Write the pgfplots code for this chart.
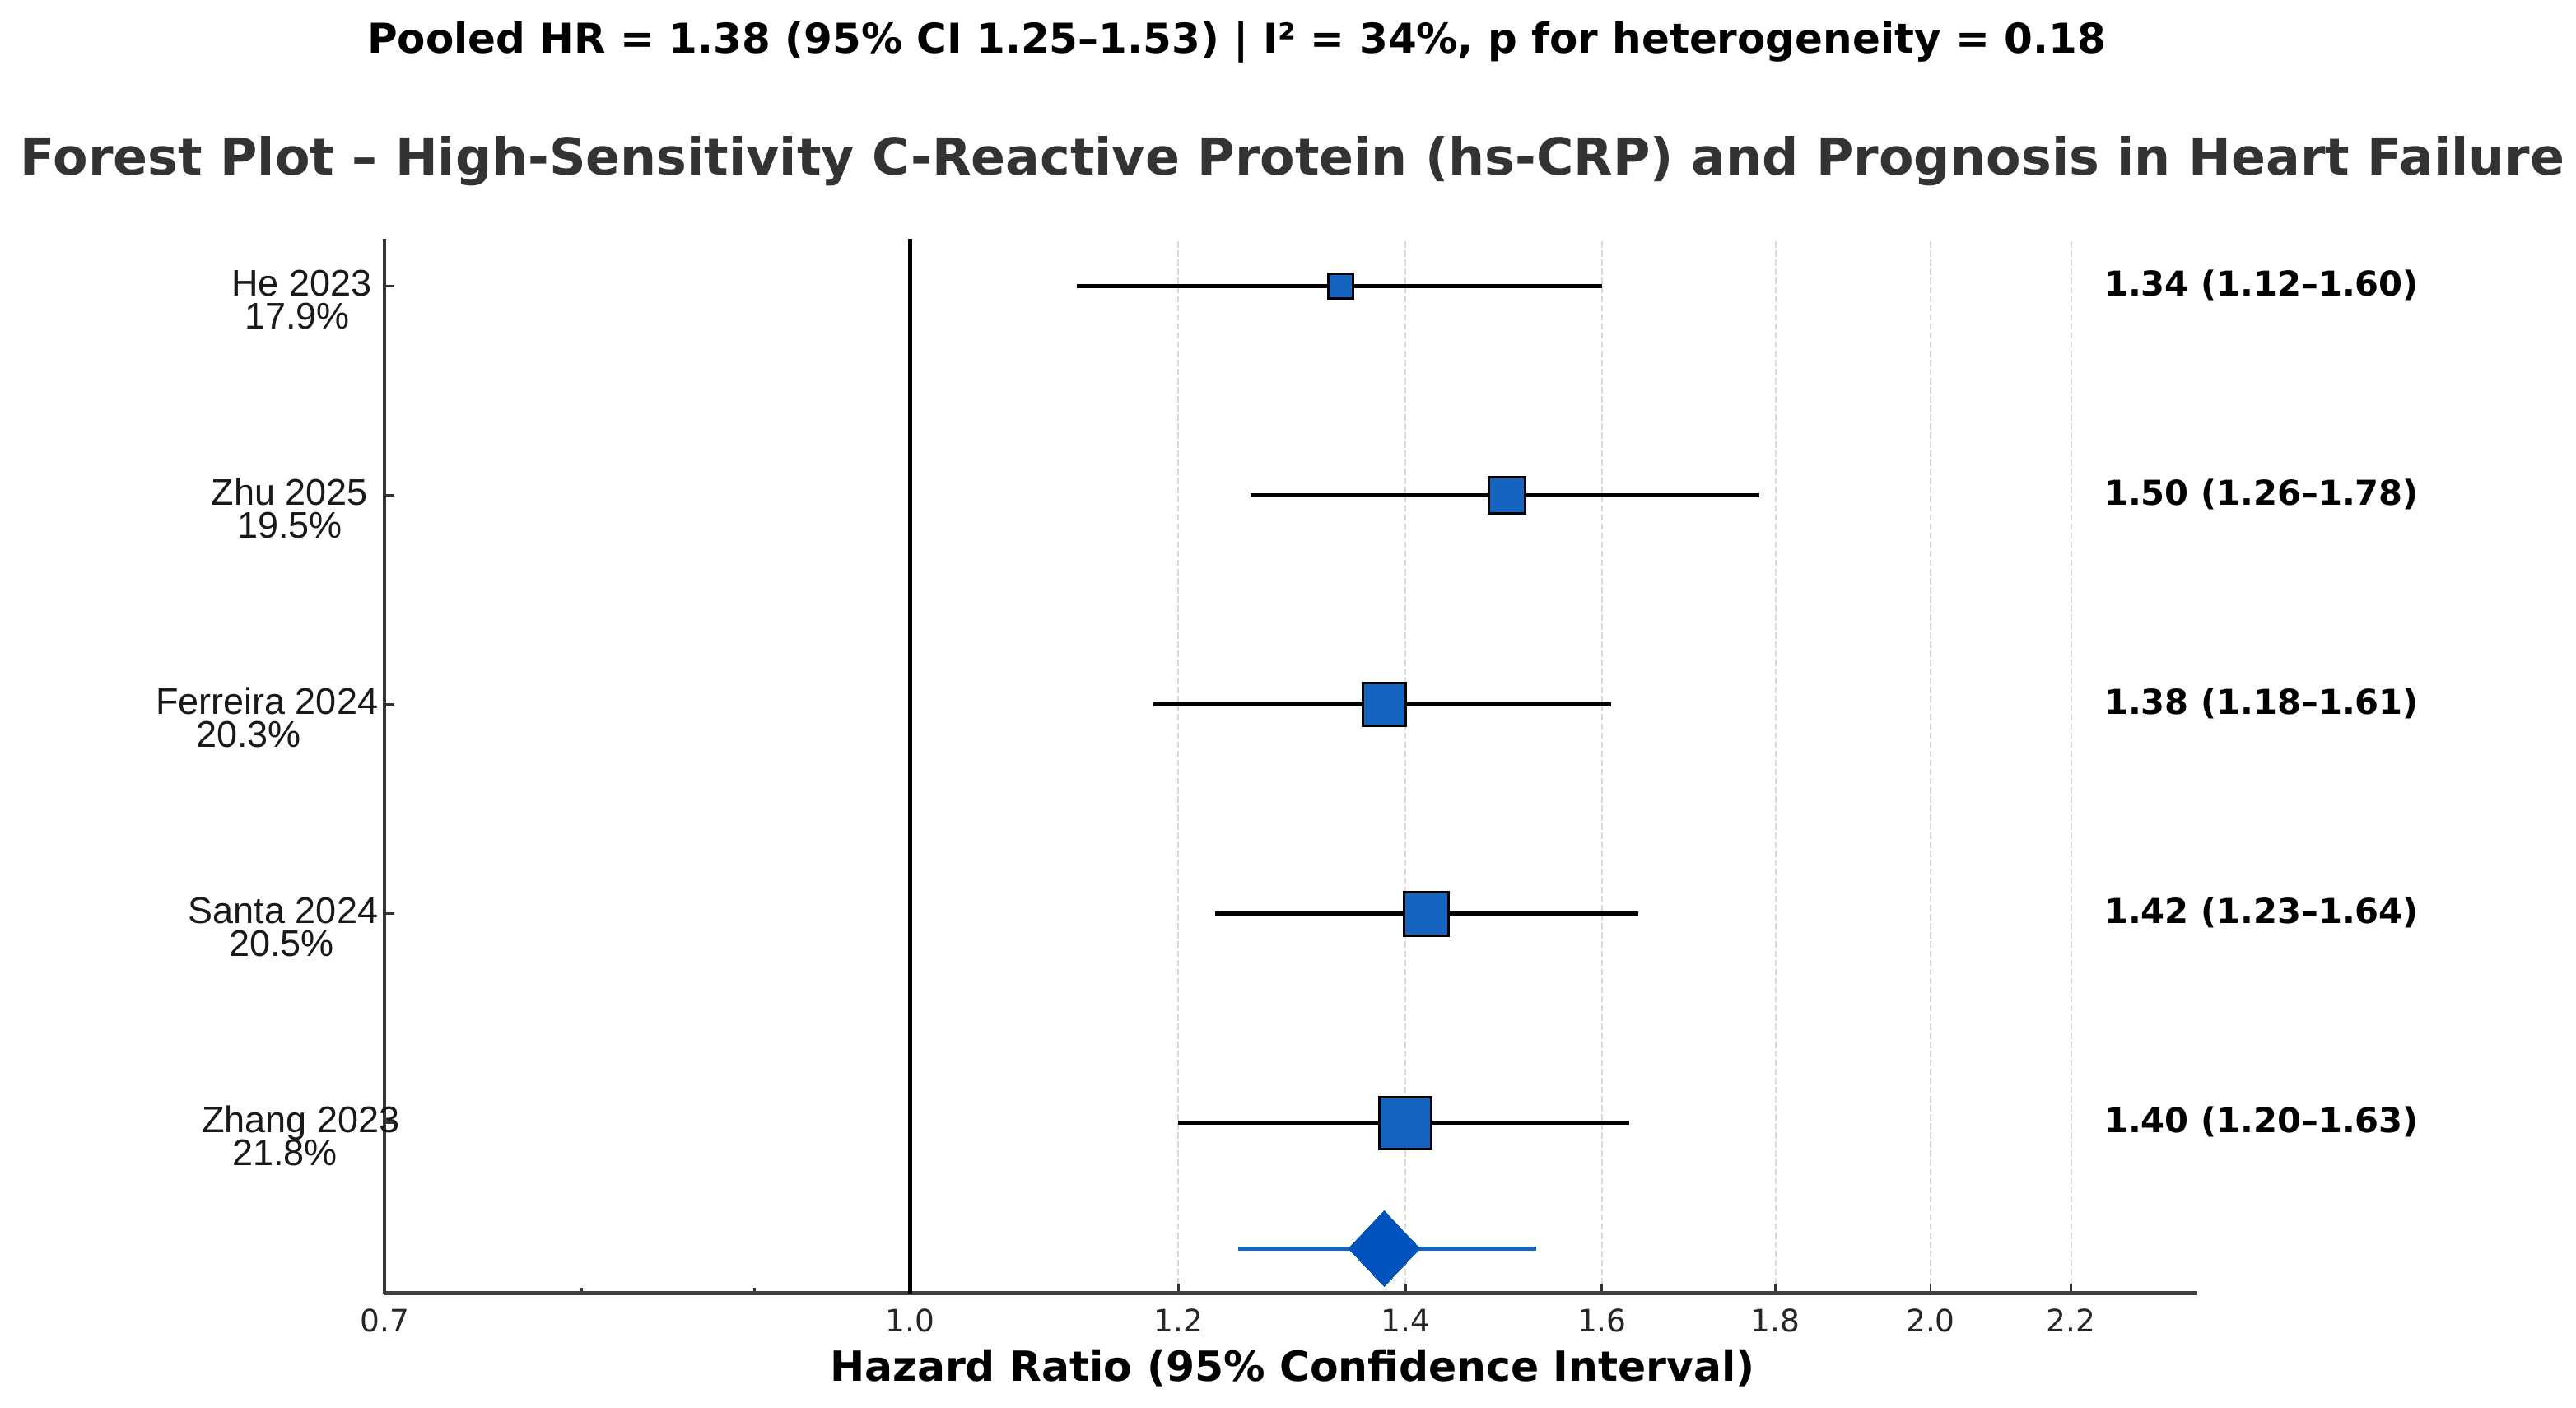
\documentclass[border=0pt]{standalone}
\usepackage{fontspec}
\setmainfont{DejaVu Sans}
\newfontfamily\labfont{Liberation Sans}
\usepackage{pgfplots}
\pgfplotsset{compat=1.18}

\definecolor{boxblue}{HTML}{1565C0}
\definecolor{diablue}{HTML}{0052BD}
\definecolor{titlegray}{HTML}{333333}
\definecolor{gridgray}{HTML}{D9D9D9}

% 1 px of the reference = 0.24 pt
\begin{document}
\begin{tikzpicture}
\useasboundingbox (0,0) rectangle (751pt,410.4pt);

\node[anchor=base, font=\bfseries\fontsize{12}{14}\selectfont] at (360.5pt,394.8pt)
  {Pooled HR = 1.38 (95\% CI 1.25–1.53) | I² = 34\%, p for heterogeneity = 0.18};
\node[anchor=base, text=titlegray, font=\bfseries\fontsize{14.85}{18}\selectfont] at (376.8pt,359.5pt)
  {Forest Plot – High-Sensitivity C-Reactive Protein (hs-CRP) and Prognosis in Heart Failure};

\begin{axis}[
  at={(112.1pt,33.4pt)}, anchor=south west,
  scale only axis, width=528.5pt, height=307.4pt,
  xmode=log, xmin=0.7, xmax=2.397,
  ymin=0.185, ymax=5.228,
  clip=false,
  axis x line*=bottom, axis y line*=left,
  x axis line style={-, line width=1.3pt, color=black!75},
  y axis line style={-, line width=0.8pt, color=black!80},
  xtick={0.7,1,1.2,1.4,1.6,1.8,2.0,2.2},
  xticklabels={0.7,1.0,1.2,1.4,1.6,1.8,2.0,2.2},
  minor xtick={0.8,0.9},
  ytick={1,2,3,4,5}, yticklabels={},
  tick align=inside,
  major tick length=2.8pt, minor tick length=1.6pt,
  tick style={color=black!80, line width=0.7pt},
  xmajorgrids,
  major grid style={gridgray, line width=0.5pt, dash pattern=on 1.85pt off 0.8pt},
  /pgf/number format/assume math mode=true,
  xticklabel style={anchor=base, yshift=-11.1pt, text=black!85,
    font=\fontsize{9}{11}\selectfont},
]

% boxes (weight-sized)
\addplot[only marks, mark=square*, mark size=3.6pt,
  mark options={fill=boxblue, draw=black, line width=0.7pt}] coordinates {(1.34,5)};
\addplot[only marks, mark=square*, mark size=5.3pt,
  mark options={fill=boxblue, draw=black, line width=0.7pt}] coordinates {(1.50,4)};
\addplot[only marks, mark=square*, mark size=6.25pt,
  mark options={fill=boxblue, draw=black, line width=0.7pt}] coordinates {(1.38,3)};
\addplot[only marks, mark=square*, mark size=6.4pt,
  mark options={fill=boxblue, draw=black, line width=0.7pt}] coordinates {(1.42,2)};
\addplot[only marks, mark=square*, mark size=7.55pt,
  mark options={fill=boxblue, draw=black, line width=0.7pt}] coordinates {(1.40,1)};

% confidence intervals
\addplot[black, line width=1.2pt] coordinates {(1.12,5) (1.60,5)};
\addplot[black, line width=1.2pt] coordinates {(1.26,4) (1.78,4)};
\addplot[black, line width=1.2pt] coordinates {(1.18,3) (1.61,3)};
\addplot[black, line width=1.2pt] coordinates {(1.23,2) (1.64,2)};
\addplot[black, line width=1.2pt] coordinates {(1.20,1) (1.63,1)};

% null line
\addplot[black, line width=1.3pt] coordinates {(1,0.185) (1,5.228)};

% pooled estimate
\addplot[boxblue, line width=1.2pt] coordinates {(1.25,0.4) (1.53,0.4)};
\addplot[diablue, only marks, mark=square*, mark size=7.38pt,
  mark options={fill=diablue, draw=diablue, line width=0pt, yscale=1.06, rotate=45}] coordinates {(1.38,0.4)};

% study labels
\tikzset{lab/.style={inner sep=0pt, text=black!90, font=\labfont\fontsize{10.8}{12}\selectfont}}
\node[lab, anchor=mid east] at (axis cs:0.7,5) [xshift=-3.6pt] {He 2023};
\node[lab, anchor=mid] at (axis cs:0.7,5) [xshift=-25.4pt, yshift=-9.6pt] {17.9\%};
\node[lab, anchor=mid east] at (axis cs:0.7,4) [xshift=-4.6pt] {Zhu 2025};
\node[lab, anchor=mid] at (axis cs:0.7,4) [xshift=-27.6pt, yshift=-9.6pt] {19.5\%};
\node[lab, anchor=mid east] at (axis cs:0.7,3) [xshift=-1.7pt] {Ferreira 2024};
\node[lab, anchor=mid] at (axis cs:0.7,3) [xshift=-39.6pt, yshift=-9.6pt] {20.3\%};
\node[lab, anchor=mid east] at (axis cs:0.7,2) [xshift=-1.7pt] {Santa 2024};
\node[lab, anchor=mid] at (axis cs:0.7,2) [xshift=-30pt, yshift=-9.6pt] {20.5\%};
\node[lab, anchor=mid east] at (axis cs:0.7,1) [xshift=4.6pt] {Zhang 2023};
\node[lab, anchor=mid] at (axis cs:0.7,1) [xshift=-29pt, yshift=-9.6pt] {21.8\%};

% estimates on the right
\tikzset{est/.style={inner sep=0pt, anchor=mid west, font=\bfseries\fontsize{10}{12}\selectfont}}
\node[est] at (axis cs:1,5) [xshift=348pt] {1.34 (1.12–1.60)};
\node[est] at (axis cs:1,4) [xshift=348pt] {1.50 (1.26–1.78)};
\node[est] at (axis cs:1,3) [xshift=348pt] {1.38 (1.18–1.61)};
\node[est] at (axis cs:1,2) [xshift=348pt] {1.42 (1.23–1.64)};
\node[est] at (axis cs:1,1) [xshift=348pt] {1.40 (1.20–1.63)};

% x label
\node[anchor=base, font=\bfseries\fontsize{12.1}{14}\selectfont] at (axis cs:1,0.185)
  [xshift=264.7pt-153.1pt, yshift=-25.5pt] {Hazard Ratio (95\% Confidence Interval)};
\end{axis}
\end{tikzpicture}
\end{document}
